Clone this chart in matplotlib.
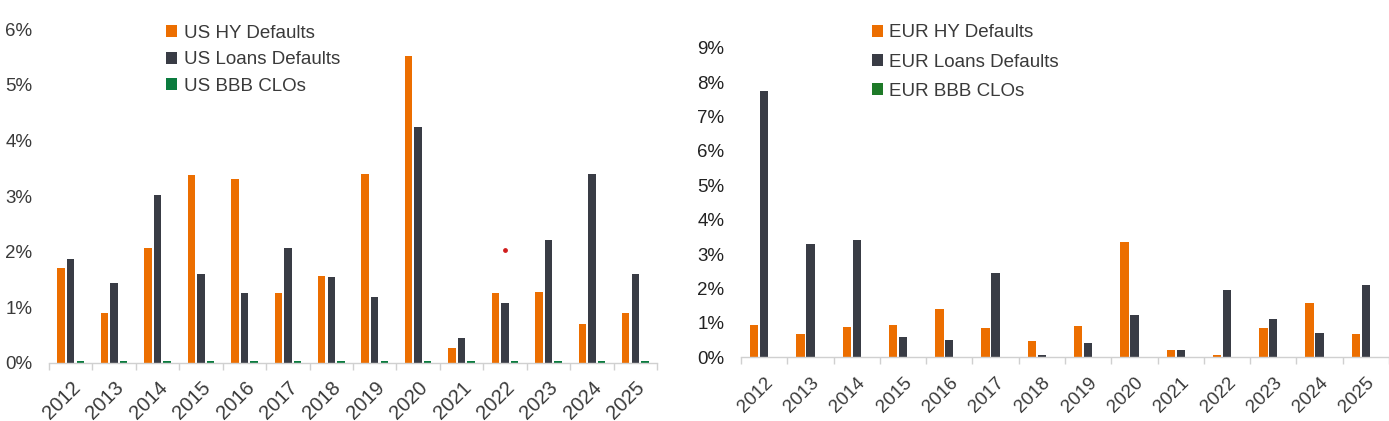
"""
US vs EUR default rates, grouped bars.
"""
import numpy as np
import matplotlib as mpl
mpl.use('Agg')
import matplotlib.pyplot as plt
import matplotlib.transforms as mtransforms
from matplotlib.ticker import PercentFormatter, FixedLocator

years = [str(y) for y in range(2012, 2026)]

# values in %
us_hy = [1.71, 0.90, 2.06, 3.38, 3.30, 1.26, 1.56, 3.39, 5.51, 0.27, 1.26, 1.27, 0.70, 0.90]
us_loans = [1.87, 1.44, 3.02, 1.60, 1.26, 2.06, 1.54, 1.19, 4.24, 0.45, 1.08, 2.21, 3.39, 1.60]
us_bbb_clo = [0.035] * 14

eur_hy = [0.94, 0.68, 0.88, 0.94, 1.40, 0.85, 0.47, 0.91, 3.35, 0.21, 0.07, 0.85, 1.58, 0.68]
eur_loans = [7.74, 3.28, 3.41, 0.59, 0.50, 2.45, 0.07, 0.42, 1.23, 0.21, 1.96, 1.11, 0.71, 2.10]
eur_bbb_clo = [0.0] * 14

# stray red marker on the US panel
dot_year = ['2022']
dot_value = [2.03]

ORANGE = '#EC6E00'
DARK = '#393C45'
GREEN = '#0B7B3E'
GREEN2 = '#1E7A28'
TXT = '#3a3a3a'

plt.rcParams['font.family'] = ['Liberation Sans', 'DejaVu Sans']

fig = plt.figure(figsize=(13.89, 4.21), dpi=100)
ax1 = fig.add_axes([0.0353, 0.1378, 0.4377, 0.7932])
ax2 = fig.add_axes([0.5335, 0.1513, 0.4665, 0.7354])


def draw(ax, series, labels, colors, ymax, width, off, leg_space, leg_anchor, xpad, xsize):
    x = np.arange(len(years))
    for i, (vals, lab, col) in enumerate(zip(series, labels, colors)):
        ax.bar(x + (i - 1) * off, vals, width, color=col, label=lab)
    ax.set_xlim(-0.5, len(years) - 0.5)
    ax.set_ylim(0, ymax)
    ax.yaxis.set_major_formatter(PercentFormatter(decimals=0))
    ax.set_yticks(range(0, ymax + 1))
    for s in ['top', 'right', 'left']:
        ax.spines[s].set_visible(False)
    ax.spines['bottom'].set_color('#d0d0d0')
    ax.spines['bottom'].set_linewidth(1.0)
    ax.set_xticks(x)
    ax.set_xticklabels(years, rotation=45, ha='right', rotation_mode='anchor')
    ax.xaxis.set_minor_locator(FixedLocator(np.arange(-0.5, len(years), 1.0)))
    ax.tick_params(axis='x', which='major', length=0, pad=xpad, labelsize=xsize, labelcolor=TXT)
    ax.tick_params(axis='x', which='minor', length=5, color='#d0d0d0', width=1.0)
    ax.tick_params(axis='y', length=0, pad=12, labelsize=13.5, labelcolor=TXT)
    leg = ax.legend(loc='upper left', bbox_to_anchor=leg_anchor, frameon=False,
                    fontsize=13.5, handlelength=0.6, handleheight=0.6,
                    handletextpad=0.35, labelspacing=leg_space, borderaxespad=0)
    for t in leg.get_texts():
        t.set_color(TXT)
    return x


x1 = draw(ax1, [us_hy, us_loans, us_bbb_clo],
          ['US HY Defaults', 'US Loans Defaults', 'US BBB CLOs'],
          [ORANGE, DARK, GREEN], 6, 0.17, 0.22, 0.5, (0.18, 1.035), 11, 14.5)
ax1.scatter([years.index(y) for y in dot_year], dot_value, s=6, color='#d01c1c', zorder=3)

x2 = draw(ax2, [eur_hy, eur_loans, eur_bbb_clo],
          ['EUR HY Defaults', 'EUR Loans Defaults', 'EUR BBB CLOs'],
          [ORANGE, DARK, GREEN2], 9, 0.18, 0.215, 0.66, (0.19, 1.10), 12, 13.5)
for t in ax2.get_yticklabels():
    t.set_color('#222222')

fig.savefig('out.png', dpi=100)
